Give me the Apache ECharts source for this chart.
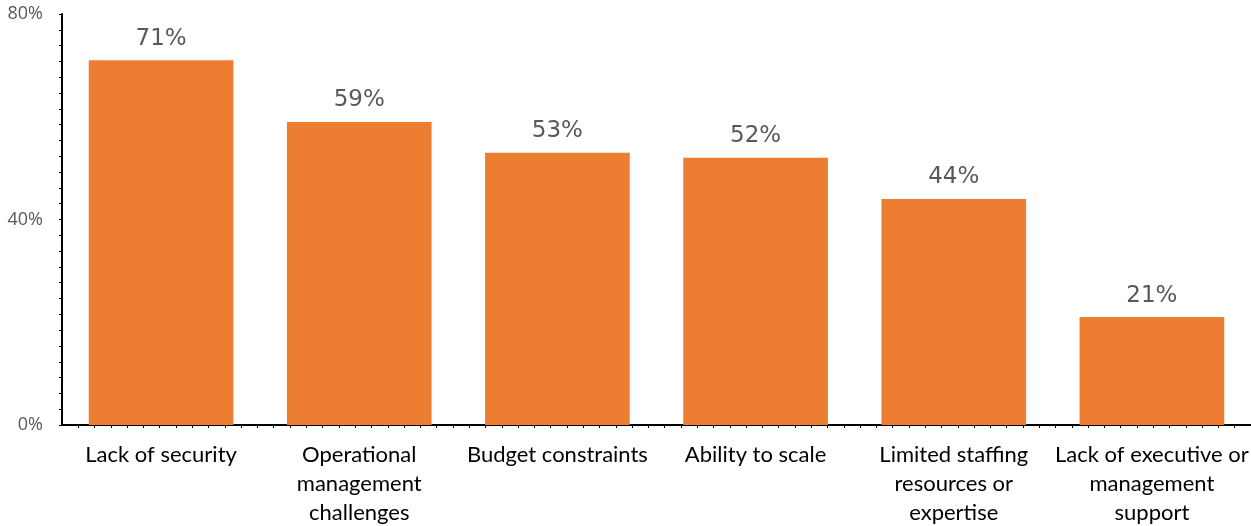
<!DOCTYPE html>
<html>
<head>
<meta charset="utf-8">
<script src="https://cdn.jsdelivr.net/npm/echarts@6/dist/echarts.min.js"></script>
<style>
html,body{margin:0;padding:0;background:#fff;}
#chart{width:1251px;height:526px;}
</style>
</head>
<body>
<div id="chart"></div>
<script>
var categories = [
  "Lack of security",
  "Operational\nmanagement\nchallenges",
  "Budget constraints",
  "Ability to scale",
  "Limited staffing\nresources or\nexpertise",
  "Lack of executive or\nmanagement\nsupport"
];
var values = [71, 59, 53, 52, 44, 21];
var yTicks = [0, 40, 80];

var chart = echarts.init(document.getElementById('chart'));
chart.setOption({
  animation: false,
  grid: { left: 62, right: 0, top: 14, bottom: 101, containLabel: false, outerBoundsMode: 'none' },
  xAxis: [{
    type: 'category',
    data: categories,
    axisLine: { show: true, lineStyle: { color: '#000', width: 2 } },
    axisTick: { show: false },
    axisLabel: {
      interval: 0,
      margin: 15,
      color: '#000',
      fontFamily: 'Lato, "Open Sans", sans-serif',
      fontSize: 22,
      lineHeight: 29
    }
  }, {
    type: 'value',
    position: 'bottom',
    min: 0,
    max: 1189,
    interval: 1189,
    axisLine: { show: false },
    axisLabel: { show: false },
    splitLine: { show: false },
    axisTick: { show: false },
    minorTick: { show: true, splitNumber: 73, length: 3, lineStyle: { color: '#000', width: 1 } }
  }],
  yAxis: {
    type: 'value',
    min: yTicks[0],
    max: yTicks[yTicks.length - 1],
    interval: 40,
    axisLine: { show: true, lineStyle: { color: '#000', width: 2 } },
    axisTick: { show: true, length: 3, lineStyle: { color: '#000' } },
    minorTick: { show: true, splitNumber: 13, length: 3, lineStyle: { color: '#000', width: 1 } },
    splitLine: { show: false },
    axisLabel: {
      margin: 19,
      color: '#595959',
      fontFamily: '"Open Sans", Lato, sans-serif',
      fontSize: 18,
      formatter: function (v) { return v + '%'; }
    }
  },
  series: [{
    type: 'bar',
    xAxisIndex: 0,
    data: values,
    barWidth: '73%',
    itemStyle: { color: '#ED7D31' },
    label: {
      show: true,
      position: 'top',
      distance: 10,
      color: '#595959',
      fontFamily: '"DejaVu Sans", "Noto Sans", sans-serif',
      fontSize: 23,
      formatter: function (p) { return p.value + '%'; }
    }
  }]
});
</script>
</body>
</html>
